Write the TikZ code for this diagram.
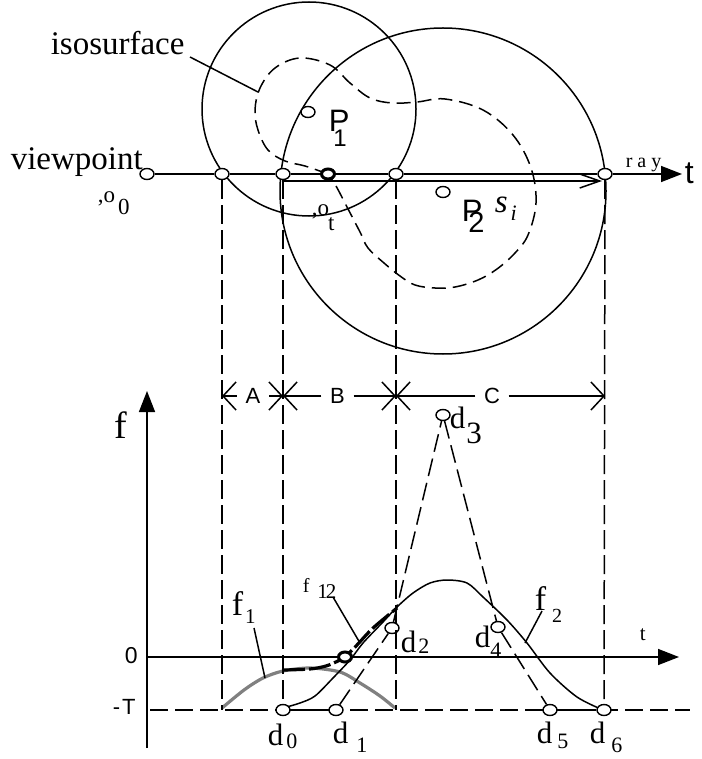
\documentclass[tikz,border=0pt]{standalone}
\usepackage{fontspec}
\setmainfont{Liberation Serif}
\setsansfont{Liberation Sans}
\usetikzlibrary{arrows.meta,shapes.geometric}
\newcommand\fsz[1]{\fontsize{#1}{#1}\selectfont}
\definecolor{fgray}{RGB}{128,128,128}
\begin{document}
\begin{tikzpicture}[x=1pt,y=-1pt,line width=1.5pt,
  pt/.style={draw,ellipse,minimum width=14pt,minimum height=11pt,inner sep=0pt,line width=1.4pt,fill=white},
  boldpt/.style={pt,line width=3pt,minimum width=13pt,minimum height=10pt},
  lab/.style={anchor=base west,inner sep=0pt},
  guide/.style={dash pattern=on 19pt off 6pt},
  iso/.style={dash pattern=on 14pt off 7pt},
  ddash/.style={dash pattern=on 18pt off 7pt},
  dimlab/.style={font=\sffamily\fsz{22},inner xsep=8pt,inner ysep=0pt},
  dimarrow/.style={-{Straight Barb[length=13pt,width=28pt]}},
  axisarrow/.style={-{Triangle[length=21pt,width=16pt]}},
]
\useasboundingbox (0,0) rectangle (701,759);
% circles
\draw (309,109) circle[radius=107pt];
\draw (443,191) circle[radius=163pt];
% isosurface
\draw[iso] plot[smooth,tension=0.6] coordinates {(328,174) (305,166) (285,161) (268,150) (258,130) (255,110) (260,88) (275,68) (300,58) (330,65) (350,83) (370,98) (392,103) (417,102) (445,99) (483,110) (513,135) (531,168) (536,203) (528,235) (515,253) (497,269) (478,280) (455,287) (435,288) (415,285) (400,276) (384,263) (368,248) (360,232) (347,207) (336,186) (328,174)};
% ray points
\node[pt] (vp) at (147,174) {};
\node[pt] (r1) at (222,174) {};
\node[pt] (r2) at (283,174) {};
\node[boldpt] (rb) at (328,174) {};
\node[pt] (r3) at (396,174) {};
\node[pt] (r4) at (605,174) {};
\coordinate (rayend) at (682,174);
\draw (vp) -- (r1);
\draw (r1) -- (r2);
\draw (r2) -- (rb);
\draw (rb) -- (r3);
\draw (r3) -- (r4);
\draw[axisarrow] (r4) -- (rayend);
\coordinate (si0) at (284,181);
\coordinate (si1) at (602,181);
\draw[-{Straight Barb[length=20pt,width=14pt]}] (si0) -- (si1);
% P points
\node[pt] (p1) at (308,112) {};
\node[pt] (p2) at (443,192) {};
% texts top
\node[lab] (isolab) at (50,55) {\fsz{33}isosurface};
\coordinate (isoA) at (190,57);
\coordinate (isoB) at (258,92);
\draw (isoA) -- (isoB);
\node[lab] (vplab) at (10,170) {\fsz{33}viewpoint};
\node[lab] (o0lab) at (97,203) {\fsz{23},o\kern3pt\raisebox{-12pt}{0}};
\node[lab] (otlab) at (311,215) {\fsz{23},o\kern-1pt\raisebox{-15pt}{t}};
\node[lab] (p1lab) at (328,132) {\sffamily\fsz{31}P\kern-16pt\raisebox{-15pt}{\fsz{24}1}};
\node[lab] (p2lab) at (461,222) {\sffamily\fsz{31}P\kern-14pt\raisebox{-11pt}{\fsz{29}2}};
\node[lab] (silab) at (494,213) {\fsz{33}\itshape s\kern3pt\raisebox{-7pt}{\fsz{22}i}};
\node[lab] (raylab) at (625,168) {\fsz{20}r\kern5pt a\kern5pt y};
\node[lab] (tlab) at (684,184) {\sffamily\fsz{32}t};
% lower plot reference lines
\coordinate (mT0) at (150,710);
\coordinate (mT1) at (690,710);
\draw[ddash] (mT0) -- (mT1);
\coordinate (fb) at (147,748);
\coordinate (ft) at (147,391);
\draw[axisarrow] (fb) -- (ft);
\coordinate (ta) at (147,657);
\coordinate (tb) at (679,657);
\draw[axisarrow] (ta) -- (tb);
% curves
\draw[fgray,line width=3.2pt] plot[smooth] coordinates {(222,708) (244,690) (263,678) (283,671) (310,668) (340,672) (360,683) (380,696) (395,708)};
\draw plot[smooth] coordinates {(283,708) (300,703) (315,696) (333,678) (350,660) (363,643) (383,622) (397,607) (413,593) (430,583) (447,580) (467,583) (483,597) (507,620) (527,643) (550,673) (577,697) (603,710)};
\draw[line width=3.2pt,dash pattern=on 22pt off 4pt] plot[smooth] coordinates {(283,670) (310,669) (326,666) (338,661) (345,657) (357,645) (373,628) (397,608)};
% d points
\node[pt] (d0) at (283,710) {};
\node[pt] (d1) at (336,710) {};
\node[pt] (d2) at (392,628) {};
\node[pt] (d3) at (443,415) {};
\node[pt] (d4) at (498,627) {};
\node[pt] (d5) at (550,710) {};
\node[pt] (d6) at (604,710) {};
\node[boldpt] (b12) at (345,657) {};
\draw (d0) -- (d1);
\draw[ddash] (d1) -- (d2);
\draw[ddash] (d2) -- (d3);
\draw[ddash] (d3) -- (d4);
\draw[ddash] (d4) -- (d5);
\draw (d5) -- (d6);
% vertical guides
\coordinate (g1) at (222,710);
\coordinate (g3) at (396,710);
\draw[guide] (r1) -- (g1);
\draw[guide] (r2) -- (d0);
\draw[guide] (r3) -- (g3);
\draw[guide] (r4) -- (d6);
% dimensions
\coordinate (dA) at (222,396);
\coordinate (dB) at (283,396);
\coordinate (dC) at (396,396);
\coordinate (dD) at (605,396);
\node[dimlab] (lA) at (253,396) {A};
\node[dimlab] (lB) at (337.5,396) {B};
\node[dimlab] (lC) at (492,396) {C};
\draw[dimarrow] (lA.west) -- (dA);
\draw[dimarrow] (lA.east) -- (dB);
\draw[dimarrow] (lB.west) -- (dB);
\draw[dimarrow] (lB.east) -- (dC);
\draw[dimarrow] (lC.west) -- (dC);
\draw[dimarrow] (lC.east) -- (dD);
% plot labels
\node[lab] (flab) at (114,438) {\fsz{38}f};
\node[lab] (zlab) at (124,663) {\sffamily\fsz{23}0};
\node[lab] (Tlab) at (112,714) {\sffamily\fsz{22}-\kern2pt T};
\node[lab] (tslab) at (639,640) {\fsz{21}t};
\node[lab] (f1lab) at (231,615) {\fsz{34}f\kern2pt\raisebox{-8pt}{\fsz{21}1}};
\coordinate (f1A) at (254,628);
\coordinate (f1B) at (265,678);
\draw (f1A) -- (f1B);
\node[lab] (f12lab) at (302,592) {\fsz{20}f\kern8pt\raisebox{-6pt}{\fsz{21}1\kern-2pt 2}};
\coordinate (f12A) at (333,597);
\coordinate (f12B) at (360,643);
\draw (f12A) -- (f12B);
\node[lab] (f2lab) at (534,610) {\fsz{34}f\kern6pt\raisebox{-12pt}{\fsz{20}2}};
\coordinate (f2A) at (542,611);
\coordinate (f2B) at (525,643);
\draw (f2A) -- (f2B);
\node[lab] (d0lab) at (267,745) {\fsz{31}d\kern3pt\raisebox{-3pt}{\fsz{22}0}};
\node[lab] (d1lab) at (332,743) {\fsz{31}d\kern8pt\raisebox{-9pt}{\fsz{22}1}};
\node[lab] (d2lab) at (400,652) {\fsz{31}d\kern2pt\raisebox{-1pt}{\fsz{22}2}};
\node[lab] (d3lab) at (449,428) {\fsz{31}d\kern1pt\raisebox{-15pt}{3}};
\node[lab] (d4lab) at (474,647) {\fsz{31}d\kern0pt\raisebox{-10pt}{\fsz{22}4}};
\node[lab] (d5lab) at (536,743) {\fsz{31}d\kern5pt\raisebox{-5pt}{\fsz{22}5}};
\node[lab] (d6lab) at (589,743) {\fsz{31}d\kern6pt\raisebox{-9pt}{\fsz{22}6}};
\end{tikzpicture}
\end{document}
